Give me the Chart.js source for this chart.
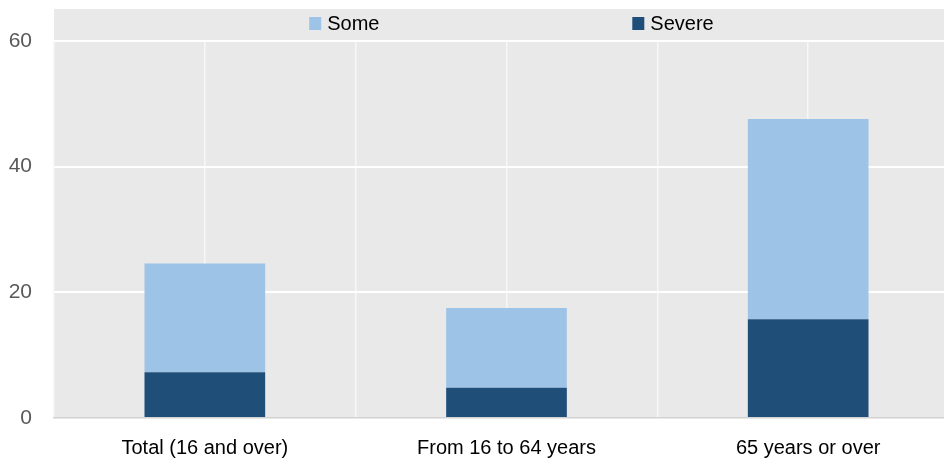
<!DOCTYPE html>
<html>
<head>
<meta charset="utf-8">
<script src="https://cdn.jsdelivr.net/npm/chart.js@4.4.1/dist/chart.umd.min.js"></script>
<style>
  html, body { margin: 0; padding: 0; background: #fff; overflow: hidden; }
  #wrap { width: 944px; height: 461px; overflow: hidden; }
</style>
</head>
<body>
<div id="wrap"><canvas id="chart" width="960" height="461"></canvas></div>
<script>
// data
const categories = ['Total (16 and over)', 'From 16 to 64 years', '65 years or over'];
const severe = [7.3, 4.8, 15.7];
const some = [17.3, 12.7, 31.9];
const yTicks = [0, 20, 40, 60];

const FONT = "'Liberation Sans', Arial, sans-serif";
const LIGHT = '#9dc3e6';
const DARK = '#1f4e79';
const PANEL = '#e9e9e9';

// grey panel behind plot + legend band
const panelBg = {
  id: 'panelBg',
  beforeDraw(chart) {
    const { ctx, chartArea } = chart;
    ctx.save();
    ctx.fillStyle = PANEL;
    ctx.fillRect(chartArea.left, 9, chartArea.right - chartArea.left, chartArea.bottom - 9);
    ctx.restore();
  }
};

// legend sitting in the band above the 60 line
const bandLegend = {
  id: 'bandLegend',
  afterDraw(chart) {
    const { ctx, chartArea } = chart;
    const w = chartArea.right - chartArea.left;
    const items = [chart.data.datasets[1], chart.data.datasets[0]];
    const spots = [0.282, 0.639];
    ctx.save();
    ctx.font = '20px ' + FONT;
    ctx.textBaseline = 'middle';
    items.forEach((ds, i) => {
      const x = chartArea.left + w * spots[i];
      ctx.fillStyle = ds.backgroundColor;
      ctx.fillRect(x, 17, 12, 13);
      ctx.fillStyle = '#000';
      ctx.fillText(ds.label, x + 18, 24);
    });
    ctx.restore();
  }
};

new Chart(document.getElementById('chart'), {
  type: 'bar',
  data: {
    labels: categories,
    datasets: [
      { label: 'Severe', data: severe, backgroundColor: DARK, stack: 's' },
      { label: 'Some', data: some, backgroundColor: LIGHT, stack: 's' }
    ]
  },
  options: {
    responsive: false,
    animation: false,
    devicePixelRatio: 1,
    layout: { padding: { top: 41, right: 1, bottom: 0, left: 0 } },
    datasets: { bar: { barPercentage: 0.4, categoryPercentage: 1 } },
    plugins: {
      legend: { display: false },
      tooltip: { enabled: false }
    },
    scales: {
      x: {
        stacked: true,
        grid: { display: false, drawTicks: false },
        border: { display: true, color: '#d2d2d2', width: 1.5 },
        ticks: { color: '#000', padding: 18, font: { family: FONT, size: 20 } },
        afterFit(axis) { axis.height = 43; }
      },
      // half-category slots: white lines at bar centres and between groups
      x2: {
        type: 'category',
        labels: ['', '', '', '', '', ''],
        position: 'top',
        offset: true,
        grid: { color: '#f7f7f7', lineWidth: 1.5, drawTicks: false, offset: true },
        border: { display: false },
        ticks: { display: false },
        afterFit(axis) { axis.height = 0; }
      },
      y: {
        stacked: true,
        min: 0,
        max: 60,
        afterBuildTicks(axis) { axis.ticks = yTicks.map(v => ({ value: v })); },
        grid: {
          color: (c) => c.tick && c.tick.value === 0 ? 'rgba(0,0,0,0)' : '#ffffff',
          lineWidth: 2,
          drawTicks: false
        },
        border: { display: false },
        ticks: { color: '#595959', padding: 22, font: { family: FONT, size: 21 } },
        afterFit(axis) { axis.width = 54; }
      }
    }
  },
  plugins: [panelBg, bandLegend]
});
</script>
</body>
</html>
